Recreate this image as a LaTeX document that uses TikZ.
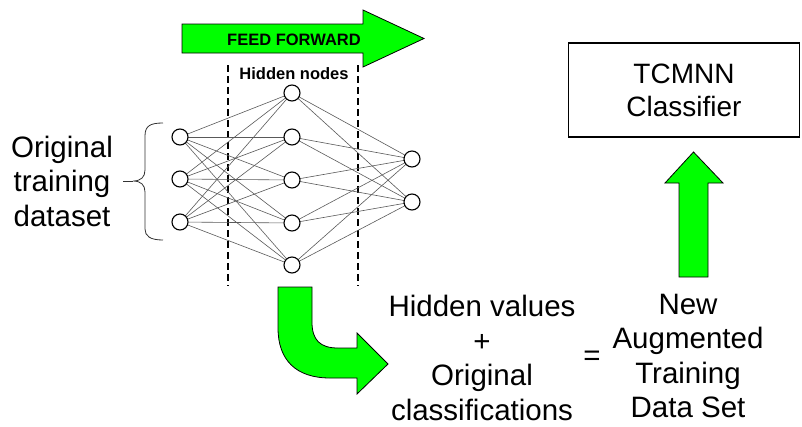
\documentclass[tikz,border=0pt]{standalone}
\usepackage{fontspec}
\setmainfont{Liberation Sans}
\tikzset{
  neuron/.style={circle, draw=black, line width=1.1pt, fill=white, minimum size=16pt, inner sep=0pt},
  link/.style={draw=black!65, line width=0.6pt},
  bigtext/.style={font=\fontsize{29.5}{34.5}\selectfont, align=center, inner sep=0pt},
  greenarrow/.style={fill=green, draw=black, line width=0.8pt, line join=miter},
  sep/.style={draw=black, line width=1.2pt, dash pattern=on 7pt off 4pt}
}
\begin{document}
\begin{tikzpicture}[x=1pt, y=-1pt]
\useasboundingbox (0,0) rectangle (802,426);

% feed forward arrow
\draw[greenarrow] (182,24) -- (363,24) -- (363,10) -- (424,38.5) -- (363,67) -- (363,53) -- (182,53) -- cycle;
\node[font=\bfseries\fontsize{16.5}{16.5}\selectfont, inner sep=0pt] (ff) at (294,40) {FEED FORWARD};

% separators around the hidden layer
\coordinate (sepLtop) at (228,65);
\coordinate (sepLbot) at (228,286);
\coordinate (sepRtop) at (358,65);
\coordinate (sepRbot) at (358,286);
\draw[sep] (sepLtop) -- (sepLbot);
\draw[sep] (sepRtop) -- (sepRbot);
\node[font=\bfseries\fontsize{16.5}{16.5}\selectfont, inner sep=0pt] (hlabel) at (294,74) {Hidden nodes};

% network nodes
\foreach \i/\y in {1/137,2/179,3/222} \coordinate (ip\i) at (180,\y);
\foreach \i/\y in {1/93,2/137,3/180,4/223,5/265} \coordinate (hp\i) at (292,\y);
\foreach \i/\y in {1/159,2/202} \coordinate (op\i) at (412,\y);

\foreach \i in {1,2,3}
  \foreach \j in {1,...,5}
    \draw[link] (ip\i) -- (hp\j);
\foreach \j in {1,...,5}
  \foreach \k in {1,2}
    \draw[link] (hp\j) -- (op\k);

\foreach \i in {1,2,3} \node[neuron] (in\i) at (ip\i) {};
\foreach \j in {1,...,5} \node[neuron] (hid\j) at (hp\j) {};
\foreach \k in {1,2} \node[neuron] (out\k) at (op\k) {};

% input label and brace
\node[bigtext] (orig) at (62,181) {Original\\training\\dataset};
\draw[black!80, line width=0.8pt]
  (163,123) .. controls (150,123) and (145,126) .. (145,136) -- (145,170)
  .. controls (145,177) and (141,181) .. (133,181)
  .. controls (141,181) and (145,185) .. (145,192) -- (145,229)
  .. controls (145,236) and (150,240) .. (163,240);
\draw[black!80, line width=0.8pt] (123,181) -- (133,181);

% bent arrow out of the hidden layer
\draw[greenarrow] (278,287) -- (312,287) -- (312,322)
  .. controls (312,340) and (320,348) .. (338,348)
  -- (357,348) -- (357,333) -- (388,364) -- (357,394) -- (357,378) -- (330,378)
  .. controls (296,378) and (278,360) .. (278,328) -- cycle;

% augmented data set
\node[bigtext] (hv) at (482,358) {Hidden values\\+\\Original\\classifications};
\node[bigtext] (eq) at (592,358) {=};
\node[bigtext] (newset) at (688,356) {New\\Augmented\\Training\\Data Set};

% classifier
\node[draw=black, line width=1.4pt, minimum width=231pt, minimum height=94pt, inner sep=0pt,
      font=\fontsize{28}{33}\selectfont, align=center] (tcm) at (684,90) {TCMNN\\Classifier};

% upward arrow into the classifier
\draw[greenarrow] (679,277) -- (679,183) -- (665,183) -- (693.5,152) -- (723,183) -- (708,183) -- (708,277) -- cycle;
\end{tikzpicture}
\end{document}
